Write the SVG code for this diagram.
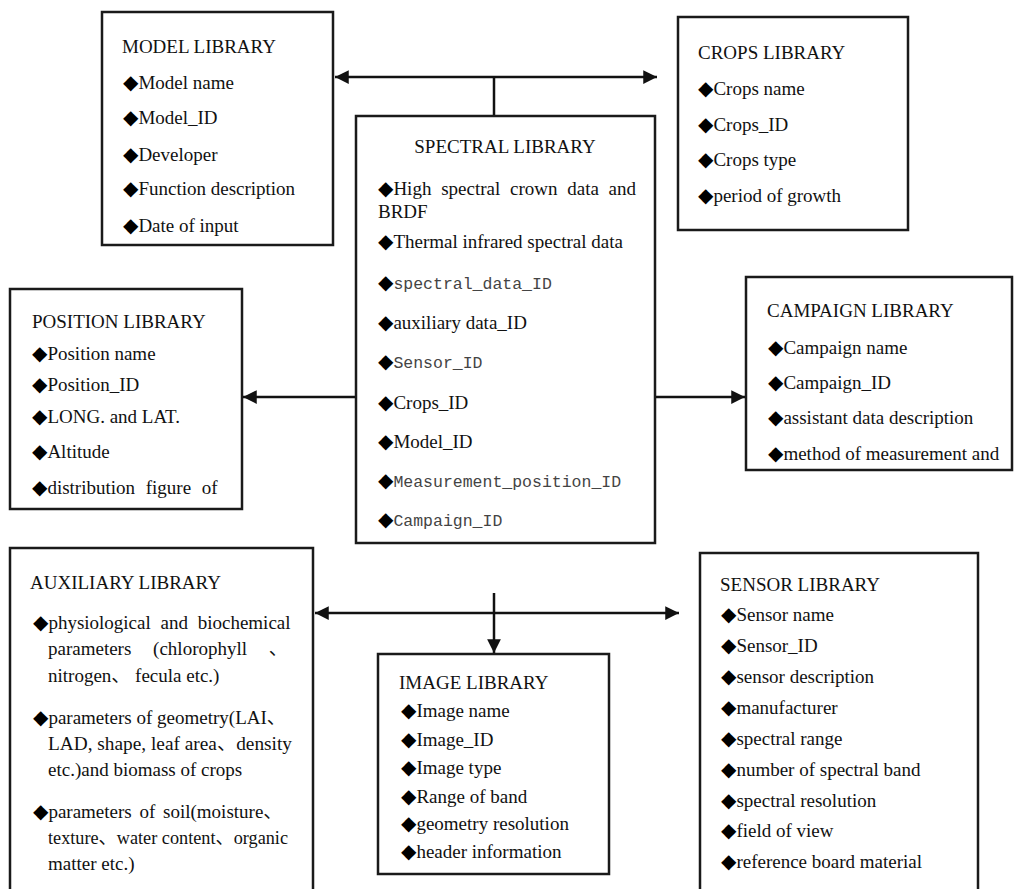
<svg xmlns="http://www.w3.org/2000/svg" width="1016" height="889" viewBox="0 0 1016 889">
<defs>
<style>
.box{fill:#fff;stroke:#1a1a1a;stroke-width:2.5}
.t{font-family:"Liberation Serif","Times New Roman","Noto Sans CJK SC",serif;font-size:19px;fill:#111}
.m{font-family:"Liberation Mono","Courier New",monospace;font-size:16.5px;fill:#444}
.d{font-family:"DejaVu Sans",sans-serif;font-size:20px;fill:#000}
.ln{stroke:#111;stroke-width:2.5;fill:none}
</style>
<marker id="ah" viewBox="0 0 10 10" refX="10" refY="5" markerWidth="6" markerHeight="5.5" orient="auto-start-reverse" markerUnits="strokeWidth">
<path d="M0,0 L10,5 L0,10 z" fill="#111"/>
</marker>
</defs>
<rect width="1016" height="889" fill="#fff"/>

<g id="connectors">
<line class="ln" x1="335" y1="77" x2="657" y2="77" marker-start="url(#ah)" marker-end="url(#ah)"/>
<line class="ln" x1="494" y1="77" x2="494" y2="116"/>
<line class="ln" x1="356" y1="397" x2="243" y2="397" marker-end="url(#ah)"/>
<line class="ln" x1="655" y1="397" x2="745" y2="397" marker-end="url(#ah)"/>
<line class="ln" x1="315" y1="613" x2="679" y2="613" marker-start="url(#ah)" marker-end="url(#ah)"/>
<line class="ln" x1="494" y1="593" x2="494" y2="653" marker-end="url(#ah)"/>
</g>

<g id="model-library">
<rect class="box" x="102" y="12" width="231" height="233"/>
<text class="t" x="122" y="53">MODEL LIBRARY</text>
<text class="t" x="123" y="89"><tspan class="d">◆</tspan>Model name</text>
<text class="t" x="123" y="124"><tspan class="d">◆</tspan>Model_ID</text>
<text class="t" x="123" y="161"><tspan class="d">◆</tspan>Developer</text>
<text class="t" x="123" y="195"><tspan class="d">◆</tspan>Function description</text>
<text class="t" x="123" y="232"><tspan class="d">◆</tspan>Date of input</text>
</g>

<g id="crops-library">
<rect class="box" x="678" y="17" width="230" height="213"/>
<text class="t" x="698" y="59">CROPS LIBRARY</text>
<text class="t" x="698" y="95"><tspan class="d">◆</tspan>Crops name</text>
<text class="t" x="698" y="131"><tspan class="d">◆</tspan>Crops_ID</text>
<text class="t" x="698" y="166"><tspan class="d">◆</tspan>Crops type</text>
<text class="t" x="698" y="202"><tspan class="d">◆</tspan>period of growth</text>
</g>

<g id="spectral-library">
<rect class="box" x="356" y="116" width="299" height="427"/>
<text class="t" x="505" y="153" text-anchor="middle">SPECTRAL LIBRARY</text>
<text class="t" x="378" y="195" word-spacing="5"><tspan class="d">◆</tspan>High spectral crown data and</text>
<text class="t" x="378" y="218">BRDF</text>
<text class="t" x="378" y="248"><tspan class="d">◆</tspan>Thermal infrared spectral data</text>
<text class="m" x="378" y="289"><tspan class="d">◆</tspan>spectral_data_ID</text>
<text class="t" x="378" y="329"><tspan class="d">◆</tspan>auxiliary data_ID</text>
<text class="m" x="378" y="368"><tspan class="d">◆</tspan>Sensor_ID</text>
<text class="t" x="378" y="409"><tspan class="d">◆</tspan>Crops_ID</text>
<text class="t" x="378" y="448"><tspan class="d">◆</tspan>Model_ID</text>
<text class="m" x="378" y="487"><tspan class="d">◆</tspan>Measurement_position_ID</text>
<text class="m" x="378" y="526"><tspan class="d">◆</tspan>Campaign_ID</text>
</g>

<g id="position-library">
<rect class="box" x="10" y="289" width="232" height="220"/>
<text class="t" x="32" y="328">POSITION LIBRARY</text>
<text class="t" x="32" y="360"><tspan class="d">◆</tspan>Position name</text>
<text class="t" x="32" y="391"><tspan class="d">◆</tspan>Position_ID</text>
<text class="t" x="32" y="423"><tspan class="d">◆</tspan>LONG. and LAT.</text>
<text class="t" x="32" y="458"><tspan class="d">◆</tspan>Altitude</text>
<text class="t" x="32" y="494" word-spacing="6"><tspan class="d">◆</tspan>distribution figure of</text>
</g>

<g id="campaign-library">
<rect class="box" x="746" y="277" width="266" height="193"/>
<text class="t" x="767" y="317">CAMPAIGN LIBRARY</text>
<text class="t" x="768" y="354"><tspan class="d">◆</tspan>Campaign name</text>
<text class="t" x="768" y="389"><tspan class="d">◆</tspan>Campaign_ID</text>
<text class="t" x="768" y="424"><tspan class="d">◆</tspan>assistant data description</text>
<text class="t" x="768" y="460"><tspan class="d">◆</tspan>method of measurement and</text>
</g>

<g id="auxiliary-library">
<rect class="box" x="10" y="548" width="303" height="345"/>
<text class="t" x="30" y="589">AUXILIARY LIBRARY</text>
<text class="t" x="33" y="629" word-spacing="5"><tspan class="d">◆</tspan>physiological and biochemical</text>
<text class="t" x="48" y="655" word-spacing="17">parameters (chlorophyll 、</text>
<text class="t" x="48" y="682">nitrogen、 fecula etc.)</text>
<text class="t" x="33" y="724"><tspan class="d">◆</tspan>parameters of geometry(LAI、</text>
<text class="t" x="48" y="750" textLength="244" lengthAdjust="spacingAndGlyphs">LAD, shape, leaf area、density</text>
<text class="t" x="48" y="776">etc.)and biomass of crops</text>
<text class="t" x="33" y="818" word-spacing="3"><tspan class="d">◆</tspan>parameters of soil(moisture、</text>
<text class="t" x="48" y="844" textLength="240" lengthAdjust="spacingAndGlyphs">texture、water content、organic</text>
<text class="t" x="48" y="870">matter etc.)</text>
</g>

<g id="image-library">
<rect class="box" x="378" y="654" width="231" height="220"/>
<text class="t" x="399" y="689">IMAGE LIBRARY</text>
<text class="t" x="401" y="717"><tspan class="d">◆</tspan>Image name</text>
<text class="t" x="401" y="746"><tspan class="d">◆</tspan>Image_ID</text>
<text class="t" x="401" y="774"><tspan class="d">◆</tspan>Image type</text>
<text class="t" x="401" y="803"><tspan class="d">◆</tspan>Range of band</text>
<text class="t" x="401" y="830"><tspan class="d">◆</tspan>geometry resolution</text>
<text class="t" x="401" y="858"><tspan class="d">◆</tspan>header information</text>
</g>

<g id="sensor-library">
<rect class="box" x="700" y="553" width="278" height="340"/>
<text class="t" x="720" y="591">SENSOR LIBRARY</text>
<text class="t" x="721" y="621"><tspan class="d">◆</tspan>Sensor name</text>
<text class="t" x="721" y="652"><tspan class="d">◆</tspan>Sensor_ID</text>
<text class="t" x="721" y="683"><tspan class="d">◆</tspan>sensor description</text>
<text class="t" x="721" y="714"><tspan class="d">◆</tspan>manufacturer</text>
<text class="t" x="721" y="745"><tspan class="d">◆</tspan>spectral range</text>
<text class="t" x="721" y="776"><tspan class="d">◆</tspan>number of spectral band</text>
<text class="t" x="721" y="807"><tspan class="d">◆</tspan>spectral resolution</text>
<text class="t" x="721" y="837"><tspan class="d">◆</tspan>field of view</text>
<text class="t" x="721" y="868"><tspan class="d">◆</tspan>reference board material</text>
</g>
</svg>
